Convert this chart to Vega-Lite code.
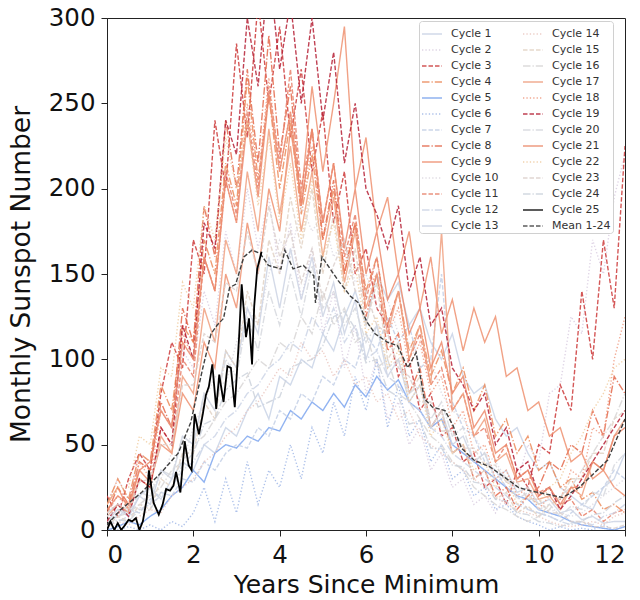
{
"$schema": "https://vega.github.io/schema/vega-lite/v6.json",
"width": 518, "height": 512,
"autosize": {"type": "none"},
"padding": {"left": 107, "top": 18, "right": 15, "bottom": 70},
"background": "white",
"config": {"font": "DejaVu Sans", "view": {"stroke": "#222", "strokeWidth": 1},
 "axis": {"labelFontSize": 24.5, "titleFontWeight": "normal", "labelColor": "#111", "titleColor": "#111", "domainColor": "#222", "tickColor": "#222", "tickSize": 6, "grid": false}},
"datasets": {
"cyc": [
{"c":1,"x":0,"y":10},{"c":1,"x":0.25,"y":15},{"c":1,"x":0.5,"y":8},{"c":1,"x":0.75,"y":20},{"c":1,"x":1,"y":25},{"c":1,"x":1.25,"y":18},{"c":1,"x":1.5,"y":30},{"c":1,"x":1.75,"y":40},{"c":1,"x":2,"y":35},{"c":1,"x":2.25,"y":50},{"c":1,"x":2.5,"y":45},{"c":1,"x":2.75,"y":60},{"c":1,"x":3,"y":55},{"c":1,"x":3.25,"y":70},{"c":1,"x":3.5,"y":80},{"c":1,"x":3.75,"y":65},{"c":1,"x":4,"y":90},{"c":1,"x":4.25,"y":85},{"c":1,"x":4.5,"y":100},{"c":1,"x":4.75,"y":95},{"c":1,"x":5,"y":115},{"c":1,"x":5.25,"y":105},{"c":1,"x":5.5,"y":125},{"c":1,"x":5.75,"y":140},{"c":1,"x":6,"y":120},{"c":1,"x":6.25,"y":150},{"c":1,"x":6.5,"y":135},{"c":1,"x":6.75,"y":145},{"c":1,"x":7,"y":120},{"c":1,"x":7.25,"y":130},{"c":1,"x":7.5,"y":110},{"c":1,"x":7.75,"y":100},{"c":1,"x":8,"y":115},{"c":1,"x":8.25,"y":90},{"c":1,"x":8.5,"y":80},{"c":1,"x":8.75,"y":85},{"c":1,"x":9,"y":65},{"c":1,"x":9.25,"y":55},{"c":1,"x":9.5,"y":60},{"c":1,"x":9.75,"y":45},{"c":1,"x":10,"y":35},{"c":1,"x":10.25,"y":40},{"c":1,"x":10.5,"y":25},{"c":1,"x":10.75,"y":20},{"c":1,"x":11,"y":15},{"c":1,"x":11.25,"y":12},{"c":1,"x":11.5,"y":25},{"c":1,"x":11.75,"y":30},{"c":1,"x":12,"y":45},
{"c":2,"x":0,"y":15},{"c":2,"x":0.25,"y":30},{"c":2,"x":0.5,"y":18},{"c":2,"x":0.75,"y":45},{"c":2,"x":1,"y":40},{"c":2,"x":1.25,"y":70},{"c":2,"x":1.5,"y":60},{"c":2,"x":1.75,"y":105},{"c":2,"x":2,"y":95},{"c":2,"x":2.25,"y":140},{"c":2,"x":2.5,"y":120},{"c":2,"x":2.75,"y":175},{"c":2,"x":3,"y":150},{"c":2,"x":3.25,"y":200},{"c":2,"x":3.5,"y":165},{"c":2,"x":3.75,"y":195},{"c":2,"x":4,"y":150},{"c":2,"x":4.25,"y":180},{"c":2,"x":4.5,"y":135},{"c":2,"x":4.75,"y":165},{"c":2,"x":5,"y":115},{"c":2,"x":5.25,"y":140},{"c":2,"x":5.5,"y":95},{"c":2,"x":5.75,"y":120},{"c":2,"x":6,"y":80},{"c":2,"x":6.25,"y":100},{"c":2,"x":6.5,"y":65},{"c":2,"x":6.75,"y":75},{"c":2,"x":7,"y":50},{"c":2,"x":7.25,"y":60},{"c":2,"x":7.5,"y":35},{"c":2,"x":7.75,"y":45},{"c":2,"x":8,"y":25},{"c":2,"x":8.25,"y":30},{"c":2,"x":8.5,"y":15},{"c":2,"x":8.75,"y":20},{"c":2,"x":9,"y":10},{"c":2,"x":9.25,"y":22},{"c":2,"x":9.5,"y":28},{"c":2,"x":9.75,"y":50},{"c":2,"x":10,"y":40},{"c":2,"x":10.25,"y":80},{"c":2,"x":10.5,"y":85},{"c":2,"x":10.75,"y":125},{"c":2,"x":11,"y":115},{"c":2,"x":11.25,"y":170},{"c":2,"x":11.5,"y":150},{"c":2,"x":11.75,"y":195},{"c":2,"x":12,"y":220},
{"c":3,"x":0,"y":20},{"c":3,"x":0.25,"y":8},{"c":3,"x":0.5,"y":30},{"c":3,"x":0.75,"y":45},{"c":3,"x":1,"y":35},{"c":3,"x":1.25,"y":80},{"c":3,"x":1.5,"y":110},{"c":3,"x":1.75,"y":95},{"c":3,"x":2,"y":170},{"c":3,"x":2.25,"y":150},{"c":3,"x":2.5,"y":240},{"c":3,"x":2.75,"y":200},{"c":3,"x":3,"y":285},{"c":3,"x":3.25,"y":230},{"c":3,"x":3.5,"y":310},{"c":3,"x":3.75,"y":250},{"c":3,"x":4,"y":295},{"c":3,"x":4.25,"y":230},{"c":3,"x":4.5,"y":270},{"c":3,"x":4.75,"y":210},{"c":3,"x":5,"y":245},{"c":3,"x":5.25,"y":180},{"c":3,"x":5.5,"y":210},{"c":3,"x":5.75,"y":150},{"c":3,"x":6,"y":165},{"c":3,"x":6.25,"y":130},{"c":3,"x":6.5,"y":120},{"c":3,"x":6.75,"y":90},{"c":3,"x":7,"y":100},{"c":3,"x":7.25,"y":70},{"c":3,"x":7.5,"y":80},{"c":3,"x":7.75,"y":55},{"c":3,"x":8,"y":60},{"c":3,"x":8.25,"y":40},{"c":3,"x":8.5,"y":45},{"c":3,"x":8.75,"y":25},{"c":3,"x":9,"y":30},{"c":3,"x":9.25,"y":15},{"c":3,"x":9.5,"y":35},{"c":3,"x":9.75,"y":25},{"c":3,"x":10,"y":50},{"c":3,"x":10.25,"y":45},{"c":3,"x":10.5,"y":85},{"c":3,"x":10.75,"y":70},{"c":3,"x":11,"y":140},{"c":3,"x":11.25,"y":100},{"c":3,"x":11.5,"y":170},{"c":3,"x":11.75,"y":130},{"c":3,"x":12,"y":225},
{"c":4,"x":0,"y":15},{"c":4,"x":0.25,"y":30},{"c":4,"x":0.5,"y":18},{"c":4,"x":0.75,"y":45},{"c":4,"x":1,"y":40},{"c":4,"x":1.25,"y":85},{"c":4,"x":1.5,"y":70},{"c":4,"x":1.75,"y":120},{"c":4,"x":2,"y":110},{"c":4,"x":2.25,"y":170},{"c":4,"x":2.5,"y":150},{"c":4,"x":2.75,"y":215},{"c":4,"x":3,"y":190},{"c":4,"x":3.25,"y":265},{"c":4,"x":3.5,"y":205},{"c":4,"x":3.75,"y":255},{"c":4,"x":4,"y":200},{"c":4,"x":4.25,"y":240},{"c":4,"x":4.5,"y":185},{"c":4,"x":4.75,"y":220},{"c":4,"x":5,"y":170},{"c":4,"x":5.25,"y":200},{"c":4,"x":5.5,"y":150},{"c":4,"x":5.75,"y":180},{"c":4,"x":6,"y":140},{"c":4,"x":6.25,"y":160},{"c":4,"x":6.5,"y":120},{"c":4,"x":6.75,"y":140},{"c":4,"x":7,"y":105},{"c":4,"x":7.25,"y":120},{"c":4,"x":7.5,"y":90},{"c":4,"x":7.75,"y":105},{"c":4,"x":8,"y":80},{"c":4,"x":8.25,"y":95},{"c":4,"x":8.5,"y":70},{"c":4,"x":8.75,"y":85},{"c":4,"x":9,"y":55},{"c":4,"x":9.25,"y":65},{"c":4,"x":9.5,"y":45},{"c":4,"x":9.75,"y":55},{"c":4,"x":10,"y":35},{"c":4,"x":10.25,"y":40},{"c":4,"x":10.5,"y":25},{"c":4,"x":10.75,"y":30},{"c":4,"x":11,"y":18},{"c":4,"x":11.25,"y":22},{"c":4,"x":11.5,"y":12},{"c":4,"x":11.75,"y":15},{"c":4,"x":12,"y":10},
{"c":5,"x":0,"y":0},{"c":5,"x":0.25,"y":2},{"c":5,"x":0.5,"y":5},{"c":5,"x":0.75,"y":3},{"c":5,"x":1,"y":8},{"c":5,"x":1.25,"y":12},{"c":5,"x":1.5,"y":20},{"c":5,"x":1.75,"y":25},{"c":5,"x":2,"y":35},{"c":5,"x":2.25,"y":28},{"c":5,"x":2.5,"y":45},{"c":5,"x":2.75,"y":50},{"c":5,"x":3,"y":48},{"c":5,"x":3.25,"y":55},{"c":5,"x":3.5,"y":52},{"c":5,"x":3.75,"y":60},{"c":5,"x":4,"y":58},{"c":5,"x":4.25,"y":70},{"c":5,"x":4.5,"y":65},{"c":5,"x":4.75,"y":75},{"c":5,"x":5,"y":70},{"c":5,"x":5.25,"y":80},{"c":5,"x":5.5,"y":72},{"c":5,"x":5.75,"y":85},{"c":5,"x":6,"y":78},{"c":5,"x":6.25,"y":90},{"c":5,"x":6.5,"y":82},{"c":5,"x":6.75,"y":88},{"c":5,"x":7,"y":75},{"c":5,"x":7.25,"y":70},{"c":5,"x":7.5,"y":60},{"c":5,"x":7.75,"y":65},{"c":5,"x":8,"y":50},{"c":5,"x":8.25,"y":45},{"c":5,"x":8.5,"y":40},{"c":5,"x":8.75,"y":35},{"c":5,"x":9,"y":30},{"c":5,"x":9.25,"y":25},{"c":5,"x":9.5,"y":20},{"c":5,"x":9.75,"y":18},{"c":5,"x":10,"y":12},{"c":5,"x":10.25,"y":10},{"c":5,"x":10.5,"y":8},{"c":5,"x":10.75,"y":5},{"c":5,"x":11,"y":3},{"c":5,"x":11.25,"y":2},{"c":5,"x":11.5,"y":1},{"c":5,"x":11.75,"y":0},{"c":5,"x":12,"y":2},
{"c":6,"x":0,"y":0},{"c":6,"x":0.25,"y":0},{"c":6,"x":0.5,"y":2},{"c":6,"x":0.75,"y":0},{"c":6,"x":1,"y":3},{"c":6,"x":1.25,"y":0},{"c":6,"x":1.5,"y":5},{"c":6,"x":1.75,"y":2},{"c":6,"x":2,"y":10},{"c":6,"x":2.25,"y":25},{"c":6,"x":2.5,"y":5},{"c":6,"x":2.75,"y":30},{"c":6,"x":3,"y":10},{"c":6,"x":3.25,"y":40},{"c":6,"x":3.5,"y":15},{"c":6,"x":3.75,"y":35},{"c":6,"x":4,"y":25},{"c":6,"x":4.25,"y":50},{"c":6,"x":4.5,"y":30},{"c":6,"x":4.75,"y":60},{"c":6,"x":5,"y":45},{"c":6,"x":5.25,"y":75},{"c":6,"x":5.5,"y":55},{"c":6,"x":5.75,"y":90},{"c":6,"x":6,"y":70},{"c":6,"x":6.25,"y":100},{"c":6,"x":6.5,"y":60},{"c":6,"x":6.75,"y":85},{"c":6,"x":7,"y":55},{"c":6,"x":7.25,"y":65},{"c":6,"x":7.5,"y":40},{"c":6,"x":7.75,"y":50},{"c":6,"x":8,"y":30},{"c":6,"x":8.25,"y":35},{"c":6,"x":8.5,"y":20},{"c":6,"x":8.75,"y":25},{"c":6,"x":9,"y":12},{"c":6,"x":9.25,"y":15},{"c":6,"x":9.5,"y":8},{"c":6,"x":9.75,"y":5},{"c":6,"x":10,"y":3},{"c":6,"x":10.25,"y":0},{"c":6,"x":10.5,"y":2},{"c":6,"x":10.75,"y":0},{"c":6,"x":11,"y":1},{"c":6,"x":11.25,"y":0},{"c":6,"x":11.5,"y":3},{"c":6,"x":11.75,"y":0},{"c":6,"x":12,"y":2},
{"c":7,"x":0,"y":5},{"c":7,"x":0.25,"y":8},{"c":7,"x":0.5,"y":12},{"c":7,"x":0.75,"y":10},{"c":7,"x":1,"y":18},{"c":7,"x":1.25,"y":22},{"c":7,"x":1.5,"y":20},{"c":7,"x":1.75,"y":30},{"c":7,"x":2,"y":28},{"c":7,"x":2.25,"y":40},{"c":7,"x":2.5,"y":35},{"c":7,"x":2.75,"y":45},{"c":7,"x":3,"y":50},{"c":7,"x":3.25,"y":48},{"c":7,"x":3.5,"y":60},{"c":7,"x":3.75,"y":55},{"c":7,"x":4,"y":70},{"c":7,"x":4.25,"y":65},{"c":7,"x":4.5,"y":80},{"c":7,"x":4.75,"y":75},{"c":7,"x":5,"y":90},{"c":7,"x":5.25,"y":85},{"c":7,"x":5.5,"y":100},{"c":7,"x":5.75,"y":95},{"c":7,"x":6,"y":115},{"c":7,"x":6.25,"y":105},{"c":7,"x":6.5,"y":125},{"c":7,"x":6.75,"y":110},{"c":7,"x":7,"y":120},{"c":7,"x":7.25,"y":95},{"c":7,"x":7.5,"y":100},{"c":7,"x":7.75,"y":150},{"c":7,"x":8,"y":75},{"c":7,"x":8.25,"y":60},{"c":7,"x":8.5,"y":55},{"c":7,"x":8.75,"y":40},{"c":7,"x":9,"y":35},{"c":7,"x":9.25,"y":25},{"c":7,"x":9.5,"y":20},{"c":7,"x":9.75,"y":12},{"c":7,"x":10,"y":10},{"c":7,"x":10.25,"y":8},{"c":7,"x":10.5,"y":5},{"c":7,"x":10.75,"y":10},{"c":7,"x":11,"y":15},{"c":7,"x":11.25,"y":20},{"c":7,"x":11.5,"y":25},{"c":7,"x":11.75,"y":35},{"c":7,"x":12,"y":30},
{"c":8,"x":0,"y":10},{"c":8,"x":0.25,"y":25},{"c":8,"x":0.5,"y":15},{"c":8,"x":0.75,"y":40},{"c":8,"x":1,"y":35},{"c":8,"x":1.25,"y":75},{"c":8,"x":1.5,"y":60},{"c":8,"x":1.75,"y":130},{"c":8,"x":2,"y":110},{"c":8,"x":2.25,"y":190},{"c":8,"x":2.5,"y":160},{"c":8,"x":2.75,"y":240},{"c":8,"x":3,"y":200},{"c":8,"x":3.25,"y":270},{"c":8,"x":3.5,"y":215},{"c":8,"x":3.75,"y":290},{"c":8,"x":4,"y":220},{"c":8,"x":4.25,"y":260},{"c":8,"x":4.5,"y":190},{"c":8,"x":4.75,"y":235},{"c":8,"x":5,"y":170},{"c":8,"x":5.25,"y":205},{"c":8,"x":5.5,"y":150},{"c":8,"x":5.75,"y":180},{"c":8,"x":6,"y":125},{"c":8,"x":6.25,"y":150},{"c":8,"x":6.5,"y":105},{"c":8,"x":6.75,"y":115},{"c":8,"x":7,"y":80},{"c":8,"x":7.25,"y":95},{"c":8,"x":7.5,"y":60},{"c":8,"x":7.75,"y":70},{"c":8,"x":8,"y":45},{"c":8,"x":8.25,"y":50},{"c":8,"x":8.5,"y":30},{"c":8,"x":8.75,"y":35},{"c":8,"x":9,"y":20},{"c":8,"x":9.25,"y":25},{"c":8,"x":9.5,"y":12},{"c":8,"x":9.75,"y":20},{"c":8,"x":10,"y":25},{"c":8,"x":10.25,"y":40},{"c":8,"x":10.5,"y":35},{"c":8,"x":10.75,"y":50},{"c":8,"x":11,"y":45},{"c":8,"x":11.25,"y":70},{"c":8,"x":11.5,"y":55},{"c":8,"x":11.75,"y":90},{"c":8,"x":12,"y":80},
{"c":9,"x":0,"y":15},{"c":9,"x":0.25,"y":25},{"c":9,"x":0.5,"y":12},{"c":9,"x":0.75,"y":35},{"c":9,"x":1,"y":28},{"c":9,"x":1.25,"y":50},{"c":9,"x":1.5,"y":45},{"c":9,"x":1.75,"y":80},{"c":9,"x":2,"y":70},{"c":9,"x":2.25,"y":110},{"c":9,"x":2.5,"y":95},{"c":9,"x":2.75,"y":150},{"c":9,"x":3,"y":130},{"c":9,"x":3.25,"y":180},{"c":9,"x":3.5,"y":150},{"c":9,"x":3.75,"y":200},{"c":9,"x":4,"y":175},{"c":9,"x":4.25,"y":235},{"c":9,"x":4.5,"y":195},{"c":9,"x":4.75,"y":260},{"c":9,"x":5,"y":210},{"c":9,"x":5.25,"y":250},{"c":9,"x":5.5,"y":295},{"c":9,"x":5.75,"y":200},{"c":9,"x":6,"y":230},{"c":9,"x":6.25,"y":175},{"c":9,"x":6.5,"y":195},{"c":9,"x":6.75,"y":150},{"c":9,"x":7,"y":175},{"c":9,"x":7.25,"y":130},{"c":9,"x":7.5,"y":160},{"c":9,"x":7.75,"y":115},{"c":9,"x":8,"y":135},{"c":9,"x":8.25,"y":105},{"c":9,"x":8.5,"y":130},{"c":9,"x":8.75,"y":110},{"c":9,"x":9,"y":125},{"c":9,"x":9.25,"y":90},{"c":9,"x":9.5,"y":95},{"c":9,"x":9.75,"y":70},{"c":9,"x":10,"y":75},{"c":9,"x":10.25,"y":55},{"c":9,"x":10.5,"y":60},{"c":9,"x":10.75,"y":40},{"c":9,"x":11,"y":45},{"c":9,"x":11.25,"y":30},{"c":9,"x":11.5,"y":35},{"c":9,"x":11.75,"y":25},{"c":9,"x":12,"y":20},
{"c":10,"x":0,"y":5},{"c":10,"x":0.25,"y":10},{"c":10,"x":0.5,"y":15},{"c":10,"x":0.75,"y":12},{"c":10,"x":1,"y":25},{"c":10,"x":1.25,"y":30},{"c":10,"x":1.5,"y":45},{"c":10,"x":1.75,"y":40},{"c":10,"x":2,"y":60},{"c":10,"x":2.25,"y":75},{"c":10,"x":2.5,"y":90},{"c":10,"x":2.75,"y":85},{"c":10,"x":3,"y":110},{"c":10,"x":3.25,"y":130},{"c":10,"x":3.5,"y":120},{"c":10,"x":3.75,"y":150},{"c":10,"x":4,"y":170},{"c":10,"x":4.25,"y":160},{"c":10,"x":4.5,"y":190},{"c":10,"x":4.75,"y":175},{"c":10,"x":5,"y":185},{"c":10,"x":5.25,"y":160},{"c":10,"x":5.5,"y":170},{"c":10,"x":5.75,"y":145},{"c":10,"x":6,"y":150},{"c":10,"x":6.25,"y":130},{"c":10,"x":6.5,"y":135},{"c":10,"x":6.75,"y":115},{"c":10,"x":7,"y":110},{"c":10,"x":7.25,"y":95},{"c":10,"x":7.5,"y":100},{"c":10,"x":7.75,"y":80},{"c":10,"x":8,"y":70},{"c":10,"x":8.25,"y":65},{"c":10,"x":8.5,"y":55},{"c":10,"x":8.75,"y":45},{"c":10,"x":9,"y":40},{"c":10,"x":9.25,"y":30},{"c":10,"x":9.5,"y":25},{"c":10,"x":9.75,"y":20},{"c":10,"x":10,"y":15},{"c":10,"x":10.25,"y":12},{"c":10,"x":10.5,"y":10},{"c":10,"x":10.75,"y":8},{"c":10,"x":11,"y":10},{"c":10,"x":11.25,"y":15},{"c":10,"x":11.5,"y":20},{"c":10,"x":11.75,"y":25},{"c":10,"x":12,"y":30},
{"c":11,"x":0,"y":5},{"c":11,"x":0.25,"y":15},{"c":11,"x":0.5,"y":10},{"c":11,"x":0.75,"y":30},{"c":11,"x":1,"y":25},{"c":11,"x":1.25,"y":60},{"c":11,"x":1.5,"y":50},{"c":11,"x":1.75,"y":100},{"c":11,"x":2,"y":90},{"c":11,"x":2.25,"y":160},{"c":11,"x":2.5,"y":140},{"c":11,"x":2.75,"y":210},{"c":11,"x":3,"y":185},{"c":11,"x":3.25,"y":245},{"c":11,"x":3.5,"y":200},{"c":11,"x":3.75,"y":260},{"c":11,"x":4,"y":215},{"c":11,"x":4.25,"y":270},{"c":11,"x":4.5,"y":200},{"c":11,"x":4.75,"y":235},{"c":11,"x":5,"y":180},{"c":11,"x":5.25,"y":215},{"c":11,"x":5.5,"y":160},{"c":11,"x":5.75,"y":185},{"c":11,"x":6,"y":135},{"c":11,"x":6.25,"y":160},{"c":11,"x":6.5,"y":120},{"c":11,"x":6.75,"y":140},{"c":11,"x":7,"y":100},{"c":11,"x":7.25,"y":115},{"c":11,"x":7.5,"y":85},{"c":11,"x":7.75,"y":95},{"c":11,"x":8,"y":70},{"c":11,"x":8.25,"y":80},{"c":11,"x":8.5,"y":55},{"c":11,"x":8.75,"y":60},{"c":11,"x":9,"y":40},{"c":11,"x":9.25,"y":50},{"c":11,"x":9.5,"y":30},{"c":11,"x":9.75,"y":35},{"c":11,"x":10,"y":22},{"c":11,"x":10.25,"y":25},{"c":11,"x":10.5,"y":15},{"c":11,"x":10.75,"y":18},{"c":11,"x":11,"y":8},{"c":11,"x":11.25,"y":12},{"c":11,"x":11.5,"y":5},{"c":11,"x":11.75,"y":10},{"c":11,"x":12,"y":12},
{"c":12,"x":0,"y":3},{"c":12,"x":0.25,"y":5},{"c":12,"x":0.5,"y":8},{"c":12,"x":0.75,"y":12},{"c":12,"x":1,"y":15},{"c":12,"x":1.25,"y":20},{"c":12,"x":1.5,"y":25},{"c":12,"x":1.75,"y":35},{"c":12,"x":2,"y":40},{"c":12,"x":2.25,"y":50},{"c":12,"x":2.5,"y":55},{"c":12,"x":2.75,"y":65},{"c":12,"x":3,"y":70},{"c":12,"x":3.25,"y":80},{"c":12,"x":3.5,"y":85},{"c":12,"x":3.75,"y":95},{"c":12,"x":4,"y":100},{"c":12,"x":4.25,"y":110},{"c":12,"x":4.5,"y":105},{"c":12,"x":4.75,"y":125},{"c":12,"x":5,"y":115},{"c":12,"x":5.25,"y":130},{"c":12,"x":5.5,"y":110},{"c":12,"x":5.75,"y":120},{"c":12,"x":6,"y":100},{"c":12,"x":6.25,"y":105},{"c":12,"x":6.5,"y":90},{"c":12,"x":6.75,"y":85},{"c":12,"x":7,"y":75},{"c":12,"x":7.25,"y":70},{"c":12,"x":7.5,"y":60},{"c":12,"x":7.75,"y":55},{"c":12,"x":8,"y":45},{"c":12,"x":8.25,"y":40},{"c":12,"x":8.5,"y":35},{"c":12,"x":8.75,"y":30},{"c":12,"x":9,"y":25},{"c":12,"x":9.25,"y":20},{"c":12,"x":9.5,"y":15},{"c":12,"x":9.75,"y":12},{"c":12,"x":10,"y":10},{"c":12,"x":10.25,"y":8},{"c":12,"x":10.5,"y":5},{"c":12,"x":10.75,"y":3},{"c":12,"x":11,"y":5},{"c":12,"x":11.25,"y":3},{"c":12,"x":11.5,"y":8},{"c":12,"x":11.75,"y":10},{"c":12,"x":12,"y":15},
{"c":13,"x":0,"y":5},{"c":13,"x":0.25,"y":12},{"c":13,"x":0.5,"y":8},{"c":13,"x":0.75,"y":20},{"c":13,"x":1,"y":15},{"c":13,"x":1.25,"y":35},{"c":13,"x":1.5,"y":30},{"c":13,"x":1.75,"y":55},{"c":13,"x":2,"y":50},{"c":13,"x":2.25,"y":80},{"c":13,"x":2.5,"y":70},{"c":13,"x":2.75,"y":105},{"c":13,"x":3,"y":95},{"c":13,"x":3.25,"y":130},{"c":13,"x":3.5,"y":115},{"c":13,"x":3.75,"y":160},{"c":13,"x":4,"y":130},{"c":13,"x":4.25,"y":165},{"c":13,"x":4.5,"y":135},{"c":13,"x":4.75,"y":160},{"c":13,"x":5,"y":125},{"c":13,"x":5.25,"y":145},{"c":13,"x":5.5,"y":115},{"c":13,"x":5.75,"y":135},{"c":13,"x":6,"y":100},{"c":13,"x":6.25,"y":120},{"c":13,"x":6.5,"y":90},{"c":13,"x":6.75,"y":100},{"c":13,"x":7,"y":75},{"c":13,"x":7.25,"y":85},{"c":13,"x":7.5,"y":60},{"c":13,"x":7.75,"y":70},{"c":13,"x":8,"y":50},{"c":13,"x":8.25,"y":55},{"c":13,"x":8.5,"y":40},{"c":13,"x":8.75,"y":45},{"c":13,"x":9,"y":30},{"c":13,"x":9.25,"y":35},{"c":13,"x":9.5,"y":22},{"c":13,"x":9.75,"y":25},{"c":13,"x":10,"y":15},{"c":13,"x":10.25,"y":18},{"c":13,"x":10.5,"y":10},{"c":13,"x":10.75,"y":12},{"c":13,"x":11,"y":6},{"c":13,"x":11.25,"y":8},{"c":13,"x":11.5,"y":4},{"c":13,"x":11.75,"y":5},{"c":13,"x":12,"y":5},
{"c":14,"x":0,"y":2},{"c":14,"x":0.25,"y":5},{"c":14,"x":0.5,"y":3},{"c":14,"x":0.75,"y":8},{"c":14,"x":1,"y":12},{"c":14,"x":1.25,"y":10},{"c":14,"x":1.5,"y":20},{"c":14,"x":1.75,"y":25},{"c":14,"x":2,"y":30},{"c":14,"x":2.25,"y":40},{"c":14,"x":2.5,"y":45},{"c":14,"x":2.75,"y":55},{"c":14,"x":3,"y":60},{"c":14,"x":3.25,"y":70},{"c":14,"x":3.5,"y":75},{"c":14,"x":3.75,"y":85},{"c":14,"x":4,"y":95},{"c":14,"x":4.25,"y":90},{"c":14,"x":4.5,"y":110},{"c":14,"x":4.75,"y":100},{"c":14,"x":5,"y":105},{"c":14,"x":5.25,"y":90},{"c":14,"x":5.5,"y":100},{"c":14,"x":5.75,"y":85},{"c":14,"x":6,"y":90},{"c":14,"x":6.25,"y":75},{"c":14,"x":6.5,"y":80},{"c":14,"x":6.75,"y":65},{"c":14,"x":7,"y":70},{"c":14,"x":7.25,"y":55},{"c":14,"x":7.5,"y":50},{"c":14,"x":7.75,"y":45},{"c":14,"x":8,"y":40},{"c":14,"x":8.25,"y":35},{"c":14,"x":8.5,"y":30},{"c":14,"x":8.75,"y":25},{"c":14,"x":9,"y":20},{"c":14,"x":9.25,"y":15},{"c":14,"x":9.5,"y":12},{"c":14,"x":9.75,"y":10},{"c":14,"x":10,"y":8},{"c":14,"x":10.25,"y":5},{"c":14,"x":10.5,"y":3},{"c":14,"x":10.75,"y":2},{"c":14,"x":11,"y":3},{"c":14,"x":11.25,"y":5},{"c":14,"x":11.5,"y":3},{"c":14,"x":11.75,"y":8},{"c":14,"x":12,"y":10},
{"c":15,"x":0,"y":2},{"c":15,"x":0.25,"y":8},{"c":15,"x":0.5,"y":5},{"c":15,"x":0.75,"y":15},{"c":15,"x":1,"y":12},{"c":15,"x":1.25,"y":30},{"c":15,"x":1.5,"y":25},{"c":15,"x":1.75,"y":45},{"c":15,"x":2,"y":45},{"c":15,"x":2.25,"y":75},{"c":15,"x":2.5,"y":65},{"c":15,"x":2.75,"y":105},{"c":15,"x":3,"y":95},{"c":15,"x":3.25,"y":140},{"c":15,"x":3.5,"y":120},{"c":15,"x":3.75,"y":170},{"c":15,"x":4,"y":150},{"c":15,"x":4.25,"y":195},{"c":15,"x":4.5,"y":165},{"c":15,"x":4.75,"y":200},{"c":15,"x":5,"y":150},{"c":15,"x":5.25,"y":185},{"c":15,"x":5.5,"y":140},{"c":15,"x":5.75,"y":165},{"c":15,"x":6,"y":120},{"c":15,"x":6.25,"y":145},{"c":15,"x":6.5,"y":100},{"c":15,"x":6.75,"y":110},{"c":15,"x":7,"y":80},{"c":15,"x":7.25,"y":90},{"c":15,"x":7.5,"y":60},{"c":15,"x":7.75,"y":70},{"c":15,"x":8,"y":45},{"c":15,"x":8.25,"y":50},{"c":15,"x":8.5,"y":30},{"c":15,"x":8.75,"y":35},{"c":15,"x":9,"y":18},{"c":15,"x":9.25,"y":22},{"c":15,"x":9.5,"y":10},{"c":15,"x":9.75,"y":14},{"c":15,"x":10,"y":8},{"c":15,"x":10.25,"y":15},{"c":15,"x":10.5,"y":18},{"c":15,"x":10.75,"y":30},{"c":15,"x":11,"y":30},{"c":15,"x":11.25,"y":45},{"c":15,"x":11.5,"y":45},{"c":15,"x":11.75,"y":65},{"c":15,"x":12,"y":70},
{"c":16,"x":0,"y":5},{"c":16,"x":0.25,"y":8},{"c":16,"x":0.5,"y":10},{"c":16,"x":0.75,"y":15},{"c":16,"x":1,"y":20},{"c":16,"x":1.25,"y":25},{"c":16,"x":1.5,"y":35},{"c":16,"x":1.75,"y":40},{"c":16,"x":2,"y":50},{"c":16,"x":2.25,"y":55},{"c":16,"x":2.5,"y":65},{"c":16,"x":2.75,"y":75},{"c":16,"x":3,"y":80},{"c":16,"x":3.25,"y":90},{"c":16,"x":3.5,"y":100},{"c":16,"x":3.75,"y":95},{"c":16,"x":4,"y":110},{"c":16,"x":4.25,"y":105},{"c":16,"x":4.5,"y":125},{"c":16,"x":4.75,"y":115},{"c":16,"x":5,"y":140},{"c":16,"x":5.25,"y":120},{"c":16,"x":5.5,"y":130},{"c":16,"x":5.75,"y":110},{"c":16,"x":6,"y":115},{"c":16,"x":6.25,"y":95},{"c":16,"x":6.5,"y":100},{"c":16,"x":6.75,"y":80},{"c":16,"x":7,"y":75},{"c":16,"x":7.25,"y":65},{"c":16,"x":7.5,"y":55},{"c":16,"x":7.75,"y":50},{"c":16,"x":8,"y":40},{"c":16,"x":8.25,"y":35},{"c":16,"x":8.5,"y":25},{"c":16,"x":8.75,"y":20},{"c":16,"x":9,"y":15},{"c":16,"x":9.25,"y":12},{"c":16,"x":9.5,"y":8},{"c":16,"x":9.75,"y":5},{"c":16,"x":10,"y":8},{"c":16,"x":10.25,"y":12},{"c":16,"x":10.5,"y":20},{"c":16,"x":10.75,"y":25},{"c":16,"x":11,"y":35},{"c":16,"x":11.25,"y":45},{"c":16,"x":11.5,"y":55},{"c":16,"x":11.75,"y":65},{"c":16,"x":12,"y":80},
{"c":17,"x":0,"y":8},{"c":17,"x":0.25,"y":15},{"c":17,"x":0.5,"y":10},{"c":17,"x":0.75,"y":30},{"c":17,"x":1,"y":25},{"c":17,"x":1.25,"y":55},{"c":17,"x":1.5,"y":45},{"c":17,"x":1.75,"y":90},{"c":17,"x":2,"y":80},{"c":17,"x":2.25,"y":130},{"c":17,"x":2.5,"y":110},{"c":17,"x":2.75,"y":170},{"c":17,"x":3,"y":150},{"c":17,"x":3.25,"y":210},{"c":17,"x":3.5,"y":175},{"c":17,"x":3.75,"y":235},{"c":17,"x":4,"y":185},{"c":17,"x":4.25,"y":225},{"c":17,"x":4.5,"y":175},{"c":17,"x":4.75,"y":210},{"c":17,"x":5,"y":160},{"c":17,"x":5.25,"y":195},{"c":17,"x":5.5,"y":145},{"c":17,"x":5.75,"y":175},{"c":17,"x":6,"y":130},{"c":17,"x":6.25,"y":150},{"c":17,"x":6.5,"y":115},{"c":17,"x":6.75,"y":140},{"c":17,"x":7,"y":100},{"c":17,"x":7.25,"y":120},{"c":17,"x":7.5,"y":85},{"c":17,"x":7.75,"y":175},{"c":17,"x":8,"y":70},{"c":17,"x":8.25,"y":80},{"c":17,"x":8.5,"y":55},{"c":17,"x":8.75,"y":65},{"c":17,"x":9,"y":40},{"c":17,"x":9.25,"y":45},{"c":17,"x":9.5,"y":28},{"c":17,"x":9.75,"y":30},{"c":17,"x":10,"y":18},{"c":17,"x":10.25,"y":20},{"c":17,"x":10.5,"y":12},{"c":17,"x":10.75,"y":25},{"c":17,"x":11,"y":20},{"c":17,"x":11.25,"y":40},{"c":17,"x":11.5,"y":35},{"c":17,"x":11.75,"y":55},{"c":17,"x":12,"y":65},
{"c":18,"x":0,"y":10},{"c":18,"x":0.25,"y":20},{"c":18,"x":0.5,"y":12},{"c":18,"x":0.75,"y":40},{"c":18,"x":1,"y":30},{"c":18,"x":1.25,"y":70},{"c":18,"x":1.5,"y":60},{"c":18,"x":1.75,"y":115},{"c":18,"x":2,"y":100},{"c":18,"x":2.25,"y":160},{"c":18,"x":2.5,"y":140},{"c":18,"x":2.75,"y":205},{"c":18,"x":3,"y":180},{"c":18,"x":3.25,"y":250},{"c":18,"x":3.5,"y":205},{"c":18,"x":3.75,"y":265},{"c":18,"x":4,"y":210},{"c":18,"x":4.25,"y":245},{"c":18,"x":4.5,"y":190},{"c":18,"x":4.75,"y":225},{"c":18,"x":5,"y":170},{"c":18,"x":5.25,"y":200},{"c":18,"x":5.5,"y":155},{"c":18,"x":5.75,"y":180},{"c":18,"x":6,"y":140},{"c":18,"x":6.25,"y":150},{"c":18,"x":6.5,"y":115},{"c":18,"x":6.75,"y":130},{"c":18,"x":7,"y":95},{"c":18,"x":7.25,"y":110},{"c":18,"x":7.5,"y":80},{"c":18,"x":7.75,"y":90},{"c":18,"x":8,"y":60},{"c":18,"x":8.25,"y":70},{"c":18,"x":8.5,"y":45},{"c":18,"x":8.75,"y":50},{"c":18,"x":9,"y":30},{"c":18,"x":9.25,"y":35},{"c":18,"x":9.5,"y":20},{"c":18,"x":9.75,"y":25},{"c":18,"x":10,"y":12},{"c":18,"x":10.25,"y":20},{"c":18,"x":10.5,"y":18},{"c":18,"x":10.75,"y":35},{"c":18,"x":11,"y":30},{"c":18,"x":11.25,"y":60},{"c":18,"x":11.5,"y":55},{"c":18,"x":11.75,"y":100},{"c":18,"x":12,"y":125},
{"c":19,"x":0,"y":5},{"c":19,"x":0.25,"y":15},{"c":19,"x":0.5,"y":8},{"c":19,"x":0.75,"y":30},{"c":19,"x":1,"y":25},{"c":19,"x":1.25,"y":60},{"c":19,"x":1.5,"y":50},{"c":19,"x":1.75,"y":120},{"c":19,"x":2,"y":100},{"c":19,"x":2.25,"y":180},{"c":19,"x":2.5,"y":165},{"c":19,"x":2.75,"y":240},{"c":19,"x":3,"y":220},{"c":19,"x":3.25,"y":300},{"c":19,"x":3.5,"y":260},{"c":19,"x":3.75,"y":330},{"c":19,"x":4,"y":270},{"c":19,"x":4.25,"y":310},{"c":19,"x":4.5,"y":250},{"c":19,"x":4.75,"y":300},{"c":19,"x":5,"y":240},{"c":19,"x":5.25,"y":280},{"c":19,"x":5.5,"y":215},{"c":19,"x":5.75,"y":250},{"c":19,"x":6,"y":200},{"c":19,"x":6.25,"y":185},{"c":19,"x":6.5,"y":165},{"c":19,"x":6.75,"y":190},{"c":19,"x":7,"y":140},{"c":19,"x":7.25,"y":160},{"c":19,"x":7.5,"y":120},{"c":19,"x":7.75,"y":130},{"c":19,"x":8,"y":95},{"c":19,"x":8.25,"y":85},{"c":19,"x":8.5,"y":70},{"c":19,"x":8.75,"y":80},{"c":19,"x":9,"y":50},{"c":19,"x":9.25,"y":60},{"c":19,"x":9.5,"y":35},{"c":19,"x":9.75,"y":40},{"c":19,"x":10,"y":20},{"c":19,"x":10.25,"y":25},{"c":19,"x":10.5,"y":12},{"c":19,"x":10.75,"y":20},{"c":19,"x":11,"y":30},{"c":19,"x":11.25,"y":40},{"c":19,"x":11.5,"y":50},{"c":19,"x":11.75,"y":60},{"c":19,"x":12,"y":70},
{"c":20,"x":0,"y":8},{"c":20,"x":0.25,"y":12},{"c":20,"x":0.5,"y":10},{"c":20,"x":0.75,"y":22},{"c":20,"x":1,"y":20},{"c":20,"x":1.25,"y":35},{"c":20,"x":1.5,"y":32},{"c":20,"x":1.75,"y":55},{"c":20,"x":2,"y":50},{"c":20,"x":2.25,"y":80},{"c":20,"x":2.5,"y":70},{"c":20,"x":2.75,"y":100},{"c":20,"x":3,"y":90},{"c":20,"x":3.25,"y":125},{"c":20,"x":3.5,"y":105},{"c":20,"x":3.75,"y":140},{"c":20,"x":4,"y":120},{"c":20,"x":4.25,"y":150},{"c":20,"x":4.5,"y":125},{"c":20,"x":4.75,"y":155},{"c":20,"x":5,"y":130},{"c":20,"x":5.25,"y":140},{"c":20,"x":5.5,"y":120},{"c":20,"x":5.75,"y":130},{"c":20,"x":6,"y":110},{"c":20,"x":6.25,"y":120},{"c":20,"x":6.5,"y":95},{"c":20,"x":6.75,"y":100},{"c":20,"x":7,"y":80},{"c":20,"x":7.25,"y":85},{"c":20,"x":7.5,"y":65},{"c":20,"x":7.75,"y":75},{"c":20,"x":8,"y":55},{"c":20,"x":8.25,"y":60},{"c":20,"x":8.5,"y":40},{"c":20,"x":8.75,"y":45},{"c":20,"x":9,"y":28},{"c":20,"x":9.25,"y":32},{"c":20,"x":9.5,"y":18},{"c":20,"x":9.75,"y":22},{"c":20,"x":10,"y":12},{"c":20,"x":10.25,"y":15},{"c":20,"x":10.5,"y":8},{"c":20,"x":10.75,"y":14},{"c":20,"x":11,"y":12},{"c":20,"x":11.25,"y":22},{"c":20,"x":11.5,"y":20},{"c":20,"x":11.75,"y":38},{"c":20,"x":12,"y":45},
{"c":21,"x":0,"y":12},{"c":21,"x":0.25,"y":20},{"c":21,"x":0.5,"y":15},{"c":21,"x":0.75,"y":35},{"c":21,"x":1,"y":40},{"c":21,"x":1.25,"y":70},{"c":21,"x":1.5,"y":60},{"c":21,"x":1.75,"y":110},{"c":21,"x":2,"y":100},{"c":21,"x":2.25,"y":160},{"c":21,"x":2.5,"y":140},{"c":21,"x":2.75,"y":205},{"c":21,"x":3,"y":180},{"c":21,"x":3.25,"y":240},{"c":21,"x":3.5,"y":195},{"c":21,"x":3.75,"y":255},{"c":21,"x":4,"y":210},{"c":21,"x":4.25,"y":245},{"c":21,"x":4.5,"y":190},{"c":21,"x":4.75,"y":235},{"c":21,"x":5,"y":180},{"c":21,"x":5.25,"y":215},{"c":21,"x":5.5,"y":165},{"c":21,"x":5.75,"y":200},{"c":21,"x":6,"y":150},{"c":21,"x":6.25,"y":175},{"c":21,"x":6.5,"y":135},{"c":21,"x":6.75,"y":150},{"c":21,"x":7,"y":115},{"c":21,"x":7.25,"y":130},{"c":21,"x":7.5,"y":95},{"c":21,"x":7.75,"y":110},{"c":21,"x":8,"y":80},{"c":21,"x":8.25,"y":90},{"c":21,"x":8.5,"y":60},{"c":21,"x":8.75,"y":70},{"c":21,"x":9,"y":45},{"c":21,"x":9.25,"y":50},{"c":21,"x":9.5,"y":30},{"c":21,"x":9.75,"y":35},{"c":21,"x":10,"y":20},{"c":21,"x":10.25,"y":25},{"c":21,"x":10.5,"y":15},{"c":21,"x":10.75,"y":25},{"c":21,"x":11,"y":25},{"c":21,"x":11.25,"y":40},{"c":21,"x":11.5,"y":35},{"c":21,"x":11.75,"y":55},{"c":21,"x":12,"y":60},
{"c":22,"x":0,"y":15},{"c":22,"x":0.25,"y":25},{"c":22,"x":0.5,"y":25},{"c":22,"x":0.75,"y":55},{"c":22,"x":1,"y":50},{"c":22,"x":1.25,"y":95},{"c":22,"x":1.5,"y":90},{"c":22,"x":1.75,"y":145},{"c":22,"x":2,"y":130},{"c":22,"x":2.25,"y":190},{"c":22,"x":2.5,"y":170},{"c":22,"x":2.75,"y":230},{"c":22,"x":3,"y":200},{"c":22,"x":3.25,"y":240},{"c":22,"x":3.5,"y":190},{"c":22,"x":3.75,"y":230},{"c":22,"x":4,"y":180},{"c":22,"x":4.25,"y":215},{"c":22,"x":4.5,"y":170},{"c":22,"x":4.75,"y":205},{"c":22,"x":5,"y":160},{"c":22,"x":5.25,"y":180},{"c":22,"x":5.5,"y":140},{"c":22,"x":5.75,"y":155},{"c":22,"x":6,"y":115},{"c":22,"x":6.25,"y":125},{"c":22,"x":6.5,"y":95},{"c":22,"x":6.75,"y":105},{"c":22,"x":7,"y":75},{"c":22,"x":7.25,"y":85},{"c":22,"x":7.5,"y":55},{"c":22,"x":7.75,"y":65},{"c":22,"x":8,"y":45},{"c":22,"x":8.25,"y":50},{"c":22,"x":8.5,"y":35},{"c":22,"x":8.75,"y":40},{"c":22,"x":9,"y":25},{"c":22,"x":9.25,"y":30},{"c":22,"x":9.5,"y":15},{"c":22,"x":9.75,"y":20},{"c":22,"x":10,"y":15},{"c":22,"x":10.25,"y":25},{"c":22,"x":10.5,"y":30},{"c":22,"x":10.75,"y":45},{"c":22,"x":11,"y":55},{"c":22,"x":11.25,"y":70},{"c":22,"x":11.5,"y":80},{"c":22,"x":11.75,"y":95},{"c":22,"x":12,"y":100},
{"c":23,"x":0,"y":10},{"c":23,"x":0.25,"y":15},{"c":23,"x":0.5,"y":12},{"c":23,"x":0.75,"y":28},{"c":23,"x":1,"y":30},{"c":23,"x":1.25,"y":50},{"c":23,"x":1.5,"y":50},{"c":23,"x":1.75,"y":85},{"c":23,"x":2,"y":85},{"c":23,"x":2.25,"y":115},{"c":23,"x":2.5,"y":110},{"c":23,"x":2.75,"y":145},{"c":23,"x":3,"y":140},{"c":23,"x":3.25,"y":175},{"c":23,"x":3.5,"y":150},{"c":23,"x":3.75,"y":190},{"c":23,"x":4,"y":160},{"c":23,"x":4.25,"y":175},{"c":23,"x":4.5,"y":145},{"c":23,"x":4.75,"y":165},{"c":23,"x":5,"y":135},{"c":23,"x":5.25,"y":155},{"c":23,"x":5.5,"y":170},{"c":23,"x":5.75,"y":140},{"c":23,"x":6,"y":140},{"c":23,"x":6.25,"y":120},{"c":23,"x":6.5,"y":115},{"c":23,"x":6.75,"y":95},{"c":23,"x":7,"y":90},{"c":23,"x":7.25,"y":75},{"c":23,"x":7.5,"y":75},{"c":23,"x":7.75,"y":58},{"c":23,"x":8,"y":58},{"c":23,"x":8.25,"y":48},{"c":23,"x":8.5,"y":48},{"c":23,"x":8.75,"y":38},{"c":23,"x":9,"y":38},{"c":23,"x":9.25,"y":28},{"c":23,"x":9.5,"y":28},{"c":23,"x":9.75,"y":18},{"c":23,"x":10,"y":18},{"c":23,"x":10.25,"y":10},{"c":23,"x":10.5,"y":10},{"c":23,"x":10.75,"y":5},{"c":23,"x":11,"y":5},{"c":23,"x":11.25,"y":2},{"c":23,"x":11.5,"y":2},{"c":23,"x":11.75,"y":1},{"c":23,"x":12,"y":3},
{"c":24,"x":0,"y":3},{"c":24,"x":0.25,"y":6},{"c":24,"x":0.5,"y":5},{"c":24,"x":0.75,"y":12},{"c":24,"x":1,"y":12},{"c":24,"x":1.25,"y":22},{"c":24,"x":1.5,"y":25},{"c":24,"x":1.75,"y":38},{"c":24,"x":2,"y":45},{"c":24,"x":2.25,"y":62},{"c":24,"x":2.5,"y":65},{"c":24,"x":2.75,"y":82},{"c":24,"x":3,"y":88},{"c":24,"x":3.25,"y":92},{"c":24,"x":3.5,"y":72},{"c":24,"x":3.75,"y":75},{"c":24,"x":4,"y":78},{"c":24,"x":4.25,"y":95},{"c":24,"x":4.5,"y":98},{"c":24,"x":4.75,"y":100},{"c":24,"x":5,"y":108},{"c":24,"x":5.25,"y":125},{"c":24,"x":5.5,"y":128},{"c":24,"x":5.75,"y":118},{"c":24,"x":6,"y":98},{"c":24,"x":6.25,"y":100},{"c":24,"x":6.5,"y":82},{"c":24,"x":6.75,"y":78},{"c":24,"x":7,"y":62},{"c":24,"x":7.25,"y":64},{"c":24,"x":7.5,"y":48},{"c":24,"x":7.75,"y":48},{"c":24,"x":8,"y":38},{"c":24,"x":8.25,"y":37},{"c":24,"x":8.5,"y":28},{"c":24,"x":8.75,"y":27},{"c":24,"x":9,"y":18},{"c":24,"x":9.25,"y":17},{"c":24,"x":9.5,"y":10},{"c":24,"x":9.75,"y":9},{"c":24,"x":10,"y":5},{"c":24,"x":10.25,"y":4},{"c":24,"x":10.5,"y":2},{"c":24,"x":10.75,"y":4},{"c":24,"x":11,"y":5},{"c":24,"x":11.25,"y":9},{"c":24,"x":11.5,"y":10},{"c":24,"x":11.75,"y":16},{"c":24,"x":12,"y":20}
],
"mean": [
{"c":0,"x":0,"y":3},{"c":0,"x":0.32,"y":12},{"c":0,"x":0.8,"y":22},{"c":0,"x":1.27,"y":34},{"c":0,"x":1.65,"y":45},{"c":0,"x":1.94,"y":63},{"c":0,"x":2.22,"y":95},{"c":0,"x":2.41,"y":115},{"c":0,"x":2.55,"y":120},{"c":0,"x":2.7,"y":124},{"c":0,"x":2.84,"y":142},{"c":0,"x":2.98,"y":144},{"c":0,"x":3.17,"y":160},{"c":0,"x":3.36,"y":164},{"c":0,"x":3.55,"y":162},{"c":0,"x":3.74,"y":155},{"c":0,"x":4.03,"y":153},{"c":0,"x":4.12,"y":164},{"c":0,"x":4.31,"y":153},{"c":0,"x":4.55,"y":155},{"c":0,"x":4.79,"y":149},{"c":0,"x":4.83,"y":133},{"c":0,"x":4.98,"y":160},{"c":0,"x":5.17,"y":153},{"c":0,"x":5.36,"y":146},{"c":0,"x":5.64,"y":137},{"c":0,"x":5.83,"y":133},{"c":0,"x":6.02,"y":122},{"c":0,"x":6.21,"y":115},{"c":0,"x":6.5,"y":110},{"c":0,"x":6.73,"y":108},{"c":0,"x":6.97,"y":95},{"c":0,"x":7.16,"y":104},{"c":0,"x":7.35,"y":77},{"c":0,"x":7.54,"y":72},{"c":0,"x":7.83,"y":70},{"c":0,"x":8.02,"y":61},{"c":0,"x":8.21,"y":48},{"c":0,"x":8.5,"y":41},{"c":0,"x":8.87,"y":37},{"c":0,"x":9.15,"y":32},{"c":0,"x":9.53,"y":25},{"c":0,"x":9.8,"y":23},{"c":0,"x":10.18,"y":21},{"c":0,"x":10.56,"y":19},{"c":0,"x":10.94,"y":25},{"c":0,"x":11.23,"y":32},{"c":0,"x":11.6,"y":41},{"c":0,"x":11.9,"y":59},{"c":0,"x":12,"y":65}
],
"c25": [
{"c":25,"x":0,"y":0},{"c":25,"x":0.08,"y":5},{"c":25,"x":0.17,"y":0},{"c":25,"x":0.25,"y":4},{"c":25,"x":0.33,"y":0},{"c":25,"x":0.42,"y":3},{"c":25,"x":0.5,"y":6},{"c":25,"x":0.58,"y":5},{"c":25,"x":0.67,"y":7},{"c":25,"x":0.75,"y":0},{"c":25,"x":0.83,"y":5},{"c":25,"x":0.92,"y":18},{"c":25,"x":0.97,"y":35},{"c":25,"x":1.08,"y":16},{"c":25,"x":1.2,"y":9},{"c":25,"x":1.29,"y":15},{"c":25,"x":1.37,"y":24},{"c":25,"x":1.46,"y":23},{"c":25,"x":1.54,"y":26},{"c":25,"x":1.6,"y":34},{"c":25,"x":1.7,"y":22},{"c":25,"x":1.8,"y":52},{"c":25,"x":1.89,"y":38},{"c":25,"x":1.96,"y":35},{"c":25,"x":2.03,"y":68},{"c":25,"x":2.13,"y":56},{"c":25,"x":2.22,"y":68},{"c":25,"x":2.29,"y":79},{"c":25,"x":2.36,"y":84},{"c":25,"x":2.44,"y":97},{"c":25,"x":2.53,"y":71},{"c":25,"x":2.6,"y":91},{"c":25,"x":2.7,"y":75},{"c":25,"x":2.79,"y":96},{"c":25,"x":2.87,"y":95},{"c":25,"x":2.96,"y":72},{"c":25,"x":3.06,"y":113},{"c":25,"x":3.12,"y":144},{"c":25,"x":3.22,"y":113},{"c":25,"x":3.29,"y":124},{"c":25,"x":3.36,"y":97},{"c":25,"x":3.41,"y":131},{"c":25,"x":3.48,"y":153},{"c":25,"x":3.53,"y":158},{"c":25,"x":3.58,"y":163}
]
},
"encoding": {
 "x": {"field": "x", "type": "quantitative", "title": "Years Since Minimum", "scale": {"domain": [0, 12], "nice": false, "zero": false}, "axis": {"values": [0,2,4,6,8,10,12], "titleFontSize": 25, "titlePadding": 6, "labelPadding": 7}},
 "y": {"field": "y", "type": "quantitative", "title": "Monthly Sunspot Number", "scale": {"domain": [0, 300], "nice": false}, "axis": {"values": [0,50,100,150,200,250,300], "titleFontSize": 26.5, "titlePadding": 13, "labelPadding": 6}},
 "color": {"field": "c", "type": "nominal",
  "scale": {"domain": [1,2,3,4,5,6,7,8,9,10,11,12,13,14,15,16,17,18,19,20,21,22,23,24,25,0],
   "range": ["#c9d3e6","#d9cde0","#cc3a3a","#ec8c5c","#7ea6ee","#9fb6e6","#c4d0e6","#e46a4c","#ef9070","#dcd8e0","#e8806a","#cdd5e6","#ccd4e4","#eac6be","#e2d2c4","#d8d6d6","#f0a080","#f09a80","#b52035","#d6d8de","#ec8a6c","#f0cca0","#dcd0cc","#ccd2dc","#000000","#404040"]},
  "legend": {"title": null, "orient": "none", "legendX": 312, "legendY": 3, "columns": 2, "columnPadding": 20, "rowPadding": 0, "symbolType": "stroke", "symbolSize": 400, "symbolStrokeWidth": 1.6, "labelFontSize": 11, "labelOffset": 8, "labelColor": "#333", "fillColor": "white", "strokeColor": "#d0d0d0", "padding": 2, "cornerRadius": 3, "labelExpr": "datum.value == 0 ? 'Mean 1-24' : 'Cycle ' + datum.value"}},
 "strokeDash": {"field": "c", "type": "nominal",
  "scale": {"domain": [1,2,3,4,5,6,7,8,9,10,11,12,13,14,15,16,17,18,19,20,21,22,23,24,25,0],
   "range": [[1,0],[1.3,2.1],[4.5,2],[7.5,2,1.3,2],[1,0],[1.3,2.1],[4.5,2],[7.5,2,1.3,2],[1,0],[1.3,2.1],[4.5,2],[7.5,2,1.3,2],[1,0],[1.3,2.1],[4.5,2],[7.5,2,1.3,2],[1,0],[1.3,2.1],[4.5,2],[7.5,2,1.3,2],[1,0],[1.3,2.1],[4.5,2],[7.5,2,1.3,2],[1,0],[4.5,2]]},
  "legend": {"title": null, "orient": "none", "legendX": 312, "legendY": 3, "columns": 2, "columnPadding": 20, "rowPadding": 0, "symbolType": "stroke", "symbolSize": 400, "symbolStrokeWidth": 1.6, "labelFontSize": 11, "labelOffset": 8, "labelColor": "#333", "fillColor": "white", "strokeColor": "#d0d0d0", "padding": 2, "cornerRadius": 3, "labelExpr": "datum.value == 0 ? 'Mean 1-24' : 'Cycle ' + datum.value"}}
},
"layer": [
 {"data": {"name": "cyc"}, "mark": {"type": "line", "clip": true, "strokeWidth": 1.4, "opacity": 0.85}},
 {"data": {"name": "mean"}, "mark": {"type": "line", "clip": true, "strokeWidth": 1.4}},
 {"data": {"name": "c25"}, "mark": {"type": "line", "clip": true, "strokeWidth": 1.8}}
]
}
